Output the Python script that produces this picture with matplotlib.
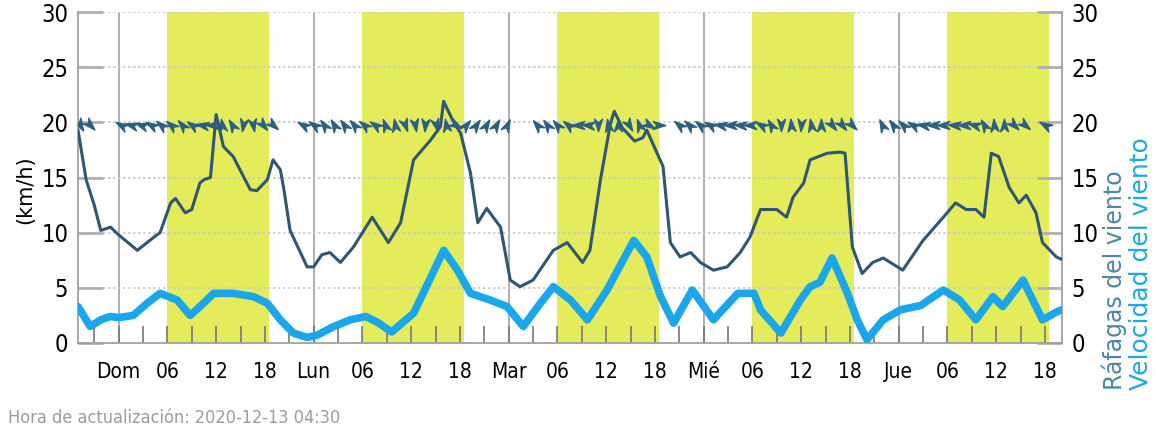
import numpy as np
import matplotlib
matplotlib.use("Agg")
import matplotlib.pyplot as plt
from matplotlib.markers import MarkerStyle
from matplotlib.path import Path
from matplotlib.transforms import Affine2D

# horas relativas a Dom 00:00
gust_t = [-5, -4, -3, -2.2, -1, 0, 2.3, 4.7, 5.1, 6.4, 7, 8.2, 9, 10, 10.5, 11.3, 12,
          12.9, 14.1, 16.2, 17, 18.3, 19, 19.9, 20.3, 21.1, 23.2, 24, 25, 26, 27.3,
          28.9, 31.2, 33.2, 34.7, 36.3, 38.4, 39.6, 40, 41.1, 42.1, 43.3, 44.2, 45.3,
          47, 48.2, 49.4, 51, 53.5, 55.2, 57.1, 58, 59.3, 60.5, 61, 62, 63.5, 64.5,
          65, 67, 67.9, 69.1, 70.4, 71.6, 73.2, 74.9, 76.5, 77.7, 79, 81, 82.2, 83,
          84.3, 85.1, 87.2, 88.8, 89.4, 90.3, 91.5, 92.8, 94.1, 96.5, 99, 101.5, 103,
          104.3, 105.5, 106.5, 107.4, 108.3, 109.6, 110.8, 111.7, 112.9, 113.7, 115.4, 116]
gust_v = [19.3, 14.8, 12.5, 10.2, 10.5, 9.8, 8.4, 9.8, 10.0, 12.7, 13.1, 11.8, 12.1, 14.5,
          14.8, 15.0, 20.7, 17.8, 16.9, 13.9, 13.8, 14.8, 16.6, 15.7, 14.1, 10.2, 6.9,
          6.9, 8.0, 8.2, 7.3, 8.7, 11.4, 9.1, 10.9, 16.6, 18.4, 19.6, 21.9, 20.2, 19.0,
          15.4, 10.9, 12.2, 10.5, 5.7, 5.1, 5.7, 8.4, 9.1, 7.3, 8.4, 14.8, 19.8, 21.0,
          19.5, 18.3, 18.6, 19.3, 16.0, 9.1, 7.8, 8.2, 7.3, 6.6, 6.9, 8.2, 9.6, 12.1,
          12.1, 11.4, 13.2, 14.5, 16.6, 17.2, 17.3, 17.2, 8.7, 6.3, 7.3, 7.7, 6.6, 9.3,
          11.4, 12.7, 12.1, 12.1, 11.4, 17.2, 16.9, 14.1, 12.7, 13.4, 11.8, 9.1, 7.8, 7.6]

wind_t = [-5, -3.5, -2.2, -1, 0, 1.8, 3.5, 5.1, 7.2, 8.8, 10, 11.7, 14.1, 16.6, 18.3,
          19.9, 21.5, 23.2, 24.4, 26.5, 28.5, 30.4, 31.8, 33.6, 36.3, 40, 41.7, 43.3,
          45.7, 47.8, 49.8, 51.9, 53.5, 55.6, 57.7, 60.1, 63.4, 65, 66.7, 68.3, 70.6,
          73.2, 76.2, 78.2, 79, 81.5, 83.9, 85.1, 86.3, 87.8, 89.7, 90.9, 92.1, 94.1,
          96.2, 98.7, 101.5, 103.5, 105.5, 107.6, 108.8, 111.3, 113.7, 115.4, 116]
wind_v = [3.3, 1.5, 2.1, 2.4, 2.3, 2.5, 3.6, 4.5, 3.9, 2.5, 3.3, 4.5, 4.5, 4.2, 3.6,
          2.1, 0.9, 0.5, 0.7, 1.5, 2.1, 2.4, 1.9, 1.0, 2.7, 8.4, 6.6, 4.5, 3.9, 3.3,
          1.5, 3.6, 5.1, 3.9, 2.1, 4.8, 9.3, 7.8, 4.2, 1.8, 4.8, 2.1, 4.5, 4.5, 3.0,
          0.9, 3.9, 5.1, 5.5, 7.7, 4.5, 2.1, 0.3, 2.1, 3.0, 3.4, 4.8, 3.9, 2.1, 4.2,
          3.3, 5.7, 2.1, 2.8, 3.0]

# dirección de las flechas (grados, hacia donde apunta); None = sin flecha
arrow_t = np.arange(-4.75, 115, 1.25)
arrow_dir = [-60, -45, None, None, 150, 165, 160, 150, 140, 140, 130, 145, 170, 180,
             100, 120, -100, -80, -50, -40, None, None, 150, 145,
             125, 120, 125, 130, 140, 145, 110, 100, -70, -80, -95, -75, 100, -30,
             50, 55, 60, 60, 65, None, None, 130, 125, 130, 140,
             180, 175, -90, 100, 90, -60, 110, -30, 0, None, 140, 135, 140, 150, 170,
             180, 175, 180, 150, 120, -90,
             95, -95, 100, 90, -50, -50, -45, None, None, 115, 125, 135, 150, 170, 180,
             180, 175, 180, 165, 120, 95, 90, -45, -40, None, 150]

days = ['Dom', 'Lun', 'Mar', 'Mié', 'Jue']
day_starts = [0, 24, 48, 72, 96]

gust_color = '#2f5673'
wind_color = '#1aa6ea'
yellow = '#e4ec5c'

fig = plt.figure(figsize=(11.56, 4.47), dpi=100)
ax = fig.add_axes([78 / 1156, 1 - 343 / 447, (1062 - 78) / 1156, (343 - 12) / 447])
ax.set_xlim(-5, 116.1)
ax.set_ylim(0, 30)

# franjas diurnas
for d in day_starts:
    ax.axvspan(d + 6, d + 18.5, color=yellow, lw=0, zorder=0)
    ax.axvline(d, color='#a8a8a8', lw=1.3, zorder=1)
for yv in range(5, 31, 5):
    ax.axhline(yv, color='#c8c8c8', lw=1.2, ls=(0, (1.5, 1.5)), zorder=1)

ax.plot(wind_t, wind_v, color=wind_color, lw=5.5, solid_capstyle='round', zorder=3)
ax.plot(gust_t, gust_v, color=gust_color, lw=2.2, zorder=4)

dart = Path([(0.5, 0), (-0.5, 0.32), (-0.2, 0), (-0.5, -0.32), (0.5, 0)],
            [Path.MOVETO, Path.LINETO, Path.LINETO, Path.LINETO, Path.CLOSEPOLY])
for t, a in zip(arrow_t, arrow_dir):
    if a is None:
        continue
    m = MarkerStyle(dart, transform=Affine2D().rotate_deg(a))
    ax.plot([t], [19.8], marker=m, ms=9, color='#2c5f80', ls='none', zorder=5)

# ejes
xt = []
xl = []
for d, name in zip(day_starts, days):
    xt += [d, d + 6, d + 12, d + 18]
    xl += [name, '06', '12', '18']
ax.set_xticks(xt)
ax.set_xticklabels(xl)
ax.set_xticks(np.arange(-3, 116, 3), minor=True)
ax.set_yticks(range(0, 31, 5))
ax.tick_params(axis='x', which='both', direction='in', length=12, width=1.2,
               color='#777777', pad=14, labelsize=15)
ax.tick_params(axis='y', direction='in', length=18, width=2, color='#b0b0b0',
               left=True, right=True, labelleft=True, labelright=True,
               pad=7, labelsize=17)
for lab in ax.get_xticklabels() + ax.get_yticklabels():
    lab.set_fontstretch('condensed')
for s in ['left', 'right', 'bottom']:
    ax.spines[s].set_color('#a0a0a0')
    ax.spines[s].set_linewidth(1.3)
ax.spines['top'].set_visible(False)

fig.text(25 / 1156, 1 - 190 / 447, '(km/h)', rotation=90, ha='center', va='center',
         fontsize=15)
fig.text(1114 / 1156, 1 - 390 / 447, 'Ráfagas del viento', rotation=90, ha='center',
         va='bottom', fontsize=17, color='#4d86a6')
fig.text(1141 / 1156, 1 - 390 / 447, 'Velocidad del viento', rotation=90, ha='center',
         va='bottom', fontsize=18, color='#1ca8e6')
fig.text(8 / 1156, 1 - 418 / 447, 'Hora de actualización: 2020-12-13 04:30',
         ha='left', va='center', fontsize=13, color='#9c9c9c', fontstretch='condensed')

fig.savefig('out.png', dpi=100)
